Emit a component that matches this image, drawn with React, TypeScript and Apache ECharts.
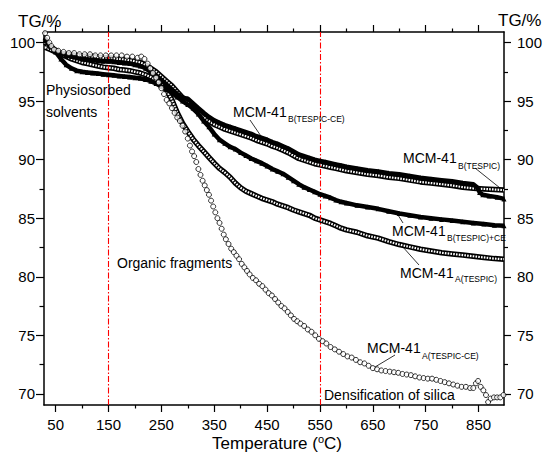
import React, { useEffect, useRef } from "react";
import * as echarts from "echarts";

// ---- axis ranges & ticks ----
const XMIN = 28;
const XMAX = 898;
const YMIN = 69.05;
const YMAX = 100.9;
const xMajorTicks = [50, 150, 250, 350, 450, 550, 650, 750, 850];
const xMinorTicks = [100, 200, 300, 400, 500, 600, 700, 800];
const yMajorTicks = [70, 75, 80, 85, 90, 95, 100];
const yMinorTicks = [72.5, 77.5, 82.5, 87.5, 92.5, 97.5];
const regionLines = [150, 550];

// ---- series: [temperature °C, TG %] ----
// MCM-41 A(TESPIC-CE) : open circles
const tespicCeA = [
  [30, 100.8], [34, 100.4], [38, 100.0], [42, 99.7], [47, 99.4], [55, 99.3], [65, 99.2], [75, 99.1], [85, 99.1],
  [95, 99.0], [105, 99.0], [115, 99.0], [125, 98.9], [135, 98.9], [145, 98.9], [155, 98.9], [165, 98.9], [175, 98.9],
  [185, 98.8], [195, 98.8], [205, 98.7], [212, 98.8], [218, 98.6], [224, 98.2], [229, 97.8], [234, 97.4], [240, 97.0],
  [245, 96.6], [250, 96.1], [255, 95.6], [260, 95.1], [265, 94.8], [270, 94.4], [275, 94.0], [280, 93.6], [285, 93.3],
  [290, 92.9], [295, 92.4], [300, 91.8], [304, 91.2], [308, 90.7], [312, 90.3], [316, 89.8], [320, 89.2], [324, 88.7],
  [328, 88.2], [332, 87.8], [336, 87.4], [340, 87.0], [344, 86.5], [348, 86.0], [352, 85.5], [356, 85.0], [360, 84.6],
  [364, 84.1], [368, 83.6], [372, 83.2], [377, 82.8], [382, 82.4], [387, 82.1], [392, 81.8], [397, 81.5], [402, 81.1],
  [407, 80.8], [412, 80.5], [417, 80.2], [423, 79.9], [429, 79.7], [435, 79.4], [441, 79.2], [447, 78.9], [453, 78.6],
  [459, 78.4], [465, 78.1], [471, 77.8], [477, 77.5], [483, 77.3], [489, 77.0], [495, 76.7], [501, 76.4], [507, 76.2],
  [513, 76.0], [520, 75.8], [527, 75.5], [534, 75.3], [541, 75.0], [548, 74.7], [555, 74.5], [562, 74.3], [570, 74.0],
  [578, 73.8], [586, 73.6], [594, 73.4], [602, 73.2], [610, 73.1], [618, 72.9], [626, 72.7], [634, 72.6], [642, 72.4],
  [650, 72.2], [658, 72.1], [666, 72.0], [674, 71.95], [682, 71.9], [690, 71.85], [698, 71.8], [706, 71.7], [714, 71.65],
  [722, 71.6], [730, 71.5], [738, 71.4], [746, 71.35], [754, 71.3], [762, 71.3], [770, 71.2], [778, 71.1], [786, 71.0],
  [794, 70.9], [802, 70.8], [810, 70.7], [818, 70.6], [826, 70.6], [834, 70.5], [840, 70.5], [845, 70.9], [849, 71.1],
  [854, 70.6], [859, 70.3], [864, 69.9], [868, 69.3], [873, 69.6], [879, 69.7], [885, 69.7], [891, 69.7], [897, 69.9],
];

// MCM-41 A(TESPIC) : open triangles
const tespicA = [
  [30, 100.0], [40, 99.6], [50, 99.3], [60, 99.0], [70, 98.8], [80, 98.6], [90, 98.45], [100, 98.3], [110, 98.2],
  [120, 98.1], [130, 98.0], [140, 97.9], [150, 97.85], [160, 97.8], [170, 97.7], [180, 97.65], [190, 97.6], [200, 97.5],
  [210, 97.4], [220, 97.25], [230, 97.05], [240, 96.8], [250, 96.45], [260, 95.9], [270, 95.1], [280, 94.0], [290, 93.1],
  [300, 92.4], [310, 91.75], [320, 91.2], [330, 90.7], [340, 90.2], [350, 89.7], [360, 89.25], [370, 88.9], [380, 88.5],
  [390, 88.0], [400, 87.6], [410, 87.3], [420, 87.1], [430, 86.9], [440, 86.7], [450, 86.55], [460, 86.4], [470, 86.2],
  [480, 86.05], [490, 85.9], [500, 85.7], [510, 85.55], [520, 85.4], [530, 85.25], [540, 85.0], [550, 84.85], [560, 84.7],
  [570, 84.55], [580, 84.35], [590, 84.15], [600, 84.0], [620, 83.8], [640, 83.5], [660, 83.3], [680, 83.0], [700, 82.75],
  [720, 82.55], [740, 82.35], [760, 82.2], [780, 82.05], [800, 81.95], [820, 81.85], [840, 81.75], [860, 81.65],
  [880, 81.55], [898, 81.5],
];

// MCM-41 B(TESPIC)+CE : filled (middle)
const tespicBCe = [
  [30, 100.2], [35, 100.0], [40, 99.7], [50, 99.2], [60, 98.6], [70, 98.1], [80, 97.8], [90, 97.6], [100, 97.5],
  [110, 97.45], [120, 97.4], [130, 97.35], [140, 97.3], [150, 97.25], [160, 97.2], [170, 97.15], [180, 97.1],
  [190, 97.05], [200, 97.0], [210, 96.95], [220, 96.85], [230, 96.7], [240, 96.5], [250, 96.25], [260, 96.0],
  [270, 95.7], [280, 95.35], [290, 95.0], [300, 94.7], [310, 94.4], [320, 93.9], [330, 93.3], [340, 92.8], [350, 92.2],
  [360, 91.7], [370, 91.4], [380, 91.1], [390, 90.9], [400, 90.6], [410, 90.35], [420, 90.1], [430, 89.9], [440, 89.7],
  [450, 89.45], [460, 89.2], [470, 89.0], [480, 88.8], [490, 88.5], [500, 88.2], [510, 87.9], [520, 87.65], [530, 87.45],
  [540, 87.25], [550, 87.05], [560, 86.9], [570, 86.75], [580, 86.55], [590, 86.4], [600, 86.3], [620, 86.1],
  [640, 85.95], [660, 85.8], [680, 85.6], [700, 85.4], [720, 85.25], [740, 85.1], [760, 85.0], [780, 84.9], [800, 84.8],
  [820, 84.7], [840, 84.6], [860, 84.5], [880, 84.4], [898, 84.35],
];

// MCM-41 B(TESPIC-CE) : open squares (upper pair, lower edge)
const tespicCeB = [
  [30, 99.6], [40, 99.4], [50, 99.2], [60, 99.1], [70, 99.0], [80, 98.95], [90, 98.9], [100, 98.85], [110, 98.8],
  [120, 98.8], [130, 98.75], [140, 98.7], [150, 98.7], [160, 98.65], [170, 98.6], [180, 98.55], [190, 98.5],
  [200, 98.4], [210, 98.3], [220, 98.1], [230, 97.8], [240, 97.5], [250, 97.1], [260, 96.7], [270, 96.3], [280, 95.8],
  [290, 95.3], [300, 94.9], [310, 94.4], [320, 94.0], [330, 93.6], [340, 93.3], [350, 93.0], [360, 92.8], [370, 92.6],
  [380, 92.45], [390, 92.3], [400, 92.15], [410, 92.0], [420, 91.85], [430, 91.65], [440, 91.5], [450, 91.35],
  [460, 91.15], [470, 91.0], [480, 90.8], [490, 90.6], [500, 90.35], [510, 90.1], [520, 89.95], [530, 89.8],
  [540, 89.65], [550, 89.55], [560, 89.45], [570, 89.35], [580, 89.25], [590, 89.15], [600, 89.05], [620, 88.9],
  [640, 88.75], [660, 88.65], [680, 88.5], [700, 88.4], [720, 88.25], [740, 88.1], [760, 88.0], [780, 87.9],
  [800, 87.8], [820, 87.65], [840, 87.55], [860, 87.5], [880, 87.45], [898, 87.4],
];

// MCM-41 B(TESPIC) : filled (upper pair, upper edge)
const tespicB = [
  [30, 100.4], [35, 100.0], [40, 99.7], [50, 99.4], [60, 99.1], [70, 98.9], [80, 98.8], [90, 98.7], [100, 98.6],
  [110, 98.55], [120, 98.5], [130, 98.45], [140, 98.4], [150, 98.4], [160, 98.35], [170, 98.3], [180, 98.25],
  [190, 98.2], [200, 98.1], [210, 98.0], [220, 97.8], [230, 97.5], [240, 97.2], [250, 96.8], [260, 96.4], [270, 96.0],
  [280, 95.6], [290, 95.3], [300, 95.2], [310, 94.8], [320, 94.4], [330, 94.0], [340, 93.65], [350, 93.35],
  [360, 93.15], [370, 92.95], [380, 92.8], [390, 92.65], [400, 92.5], [410, 92.35], [420, 92.2], [430, 92.0],
  [440, 91.85], [450, 91.7], [460, 91.5], [470, 91.35], [480, 91.15], [490, 90.95], [500, 90.7], [510, 90.45],
  [520, 90.3], [530, 90.15], [540, 90.0], [550, 89.9], [560, 89.8], [570, 89.7], [580, 89.6], [590, 89.5], [600, 89.4],
  [620, 89.25], [640, 89.1], [660, 89.0], [680, 88.85], [700, 88.75], [720, 88.6], [740, 88.45], [760, 88.35],
  [780, 88.25], [800, 88.15], [820, 88.0], [840, 87.9], [848, 87.6], [852, 87.2], [858, 87.0], [870, 86.9],
  [885, 86.8], [898, 86.65],
];

const FONT = '"Liberation Sans", Arial, Helvetica, sans-serif';

function text(x: number, y: number, s: string, size: number, align = "left") {
  return {
    type: "text",
    x,
    y,
    z: 100,
    silent: true,
    style: { text: s, fontSize: size, fontFamily: FONT, fill: "#000", align, verticalAlign: "middle" },
  };
}
function leader(x1: number, y1: number, x2: number, y2: number) {
  return {
    type: "line",
    z: 100,
    silent: true,
    shape: { x1, y1, x2, y2 },
    style: { stroke: "#000", lineWidth: 0.8 },
  };
}

function labelMCM(x: number, y: number, sub: string, subDy: number) {
  return [text(x, y, "MCM-41", 14), text(x + 55, y + subDy, sub, 8.5)];
}

function xAxisCfg(position: string, ticks: number[], length: number, showLine: boolean, labels: boolean) {
  return {
    type: "value",
    position,
    min: XMIN,
    max: XMAX,
    axisLine: { show: showLine, onZero: false, lineStyle: { color: "#000", width: 1.5 } },
    axisTick: { show: true, customValues: ticks, length, inside: false, lineStyle: { color: "#000", width: 1.2 } },
    axisLabel: labels
      ? { show: true, customValues: ticks, margin: 12, fontSize: 15, color: "#000", fontFamily: FONT }
      : { show: false },
    splitLine: { show: false },
  };
}
function yAxisCfg(position: string, ticks: number[], length: number, showLine: boolean, labels: boolean, margin: number) {
  return {
    type: "value",
    position,
    min: YMIN,
    max: YMAX,
    axisLine: { show: showLine, onZero: false, lineStyle: { color: "#000", width: 1.5 } },
    axisTick: { show: true, customValues: ticks, length, inside: false, lineStyle: { color: "#000", width: 1.2 } },
    axisLabel: labels
      ? { show: true, customValues: ticks, margin, fontSize: 15, color: "#000", fontFamily: FONT }
      : { show: false },
    splitLine: { show: false },
  };
}

export default function App() {
  const ref = useRef<HTMLDivElement>(null);
  useEffect(() => {
    document.body.style.margin = "0";
    if (!ref.current) return;
    const chart = echarts.init(ref.current, undefined, { renderer: "svg" });

    const openBand = (name: string, data: number[][]) => [
      {
        name,
        type: "line",
        data,
        showSymbol: false,
        symbol: "none",
        lineStyle: { color: "#000", width: 5.5, join: "round" },
        z: 3,
      },
      {
        name: name + "-core",
        type: "line",
        data,
        showSymbol: false,
        symbol: "none",
        lineStyle: { color: "#fff", width: 2.2, type: [1.6, 1.2] },
        z: 4,
      },
    ];
    const filledBand = (name: string, data: number[][]) => ({
      name,
      type: "line",
      data,
      symbol: "triangle",
      symbolSize: 5,
      showSymbol: true,
      itemStyle: { color: "#000" },
      lineStyle: { color: "#000", width: 4.5, join: "round" },
      z: 5,
    });

    chart.setOption({
      animation: false,
      backgroundColor: "#fff",
      grid: { left: 44, right: 37, top: 32, bottom: 48, containLabel: false },
      xAxis: [
        xAxisCfg("bottom", xMajorTicks, 7, true, true),
        xAxisCfg("bottom", xMinorTicks, 3.5, false, false),
        xAxisCfg("top", xMajorTicks, 7, true, false),
        xAxisCfg("top", xMinorTicks, 3.5, false, false),
      ],
      yAxis: [
        yAxisCfg("left", yMajorTicks, 8, true, true, 9),
        yAxisCfg("left", yMinorTicks, 4.5, false, false, 0),
        yAxisCfg("right", yMajorTicks, 7, true, true, 13),
        yAxisCfg("right", yMinorTicks, 4, false, false, 0),
      ],
      series: [
        ...openBand("MCM-41 A(TESPIC)", tespicA),
        filledBand("MCM-41 B(TESPIC)+CE", tespicBCe),
        ...openBand("MCM-41 B(TESPIC-CE)", tespicCeB),
        filledBand("MCM-41 B(TESPIC)", tespicB),
        {
          name: "MCM-41 A(TESPIC-CE)",
          type: "scatter",
          data: tespicCeA,
          symbol: "circle",
          symbolSize: 5,
          itemStyle: { color: "#fff", borderColor: "#000", borderWidth: 1 },
          z: 6,
          markLine: {
            silent: true,
            symbol: ["none", "none"],
            label: { show: false },
            lineStyle: { color: "#ff0000", width: 1.1, type: [6, 2, 1.5, 2] },
            data: regionLines.map((v) => ({ xAxis: v })),
          },
        },
      ],
      graphic: [
        text(18, 21, "TG/%", 17),
        text(498, 20, "TG/%", 17),
        text(46, 90, "Physiosorbed", 14),
        text(46, 112, "solvents", 14),
        text(117, 262.5, "Organic fragments", 14),
        text(324, 394.5, "Densification of silica", 14),
        ...labelMCM(233, 111.5, "B(TESPIC-CE)", 7),
        leader(250, 120, 265, 142),
        ...labelMCM(403, 157.5, "B(TESPIC)", 8),
        leader(475, 168, 500, 188),
        ...labelMCM(392, 231, "B(TESPIC)+CE", 7),
        leader(398, 215, 403, 223),
        ...labelMCM(400, 272.5, "A(TESPIC)", 6),
        leader(402, 246, 419, 265),
        ...labelMCM(367, 347.5, "A(TESPIC-CE)", 8),
        leader(395, 355, 375, 367),
        {
          type: "text",
          x: 277,
          y: 443,
          z: 100,
          silent: true,
          style: {
            text: "{t|Temperature (}{s|o}{t|C)}",
            align: "center",
            verticalAlign: "middle",
            fill: "#000",
            fontFamily: FONT,
            rich: {
              t: { fontSize: 17, fontFamily: FONT, lineHeight: 20, fill: "#000" },
              s: { fontSize: 11, fontFamily: FONT, lineHeight: 20, fill: "#000", verticalAlign: "top", padding: [0, 0, 0, 0] },
            },
          },
        },
      ],
    });
    return () => chart.dispose();
  }, []);
  return <div ref={ref} style={{ width: 545, height: 453 }} />;
}
